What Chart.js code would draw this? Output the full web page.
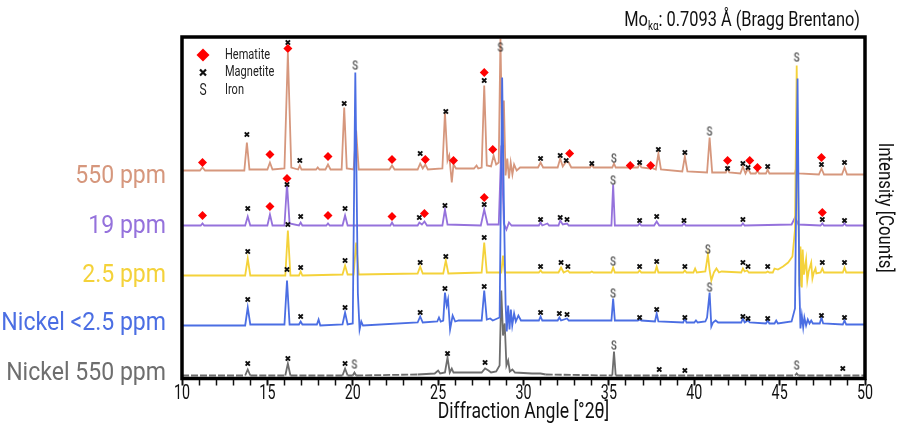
<!DOCTYPE html>
<html>
<head>
<meta charset="utf-8">
<script src="https://cdn.jsdelivr.net/npm/chart.js@4.4.1/dist/chart.umd.min.js"></script>
<style>
  html, body { margin: 0; padding: 0; background: #fff; }
  canvas { display: block; }
</style>
</head>
<body>
<canvas id="xrd" width="898" height="433"></canvas>
<script>
// sample names, drawn as labels left of each pattern
const seriesNames = ['550 ppm', '19 ppm', '2.5 ppm', 'Nickel <2.5 ppm', 'Nickel 550 ppm'];
// vertical offset of each pattern in the stack
const baselines = [208, 153, 104, 55, 3];
// where the sample name sits on the intensity axis
const labelLevels = [203, 153, 104, 56, 6];
// labelled angles on the x axis
const angleTicks = [10, 15, 20, 25, 30, 35, 40, 45, 50];

// [2theta, counts above baseline]
const pattern550 = [
  [10, 0], [11.05, 0], [11.2, 3], [11.35, 0],
  [13.65, 0], [13.8, 28], [13.95, 1],
  [15.0, 1], [15.15, 8], [15.3, 1],
  [16.0, 2], [16.2, 118], [16.4, 3],
  [16.8, 1], [16.9, 5], [17.0, 1],
  [17.85, 1], [17.95, 3], [18.05, 1],
  [18.4, 1], [18.55, 6], [18.7, 1],
  [19.35, 1], [19.5, 63], [19.65, 2],
  [20.05, 1], [20.2, 40], [20.35, 1],
  [22.15, 1], [22.3, 5], [22.45, 1],
  [23.8, 1], [23.95, 7], [24.1, 2], [24.25, 6], [24.4, 1],
  [25.25, 2], [25.4, 58], [25.55, 10], [25.65, 15], [25.8, -12], [25.9, 6], [26.05, 2],
  [27.1, 2], [27.25, 5], [27.35, 2],
  [27.55, 3], [27.7, 85], [27.85, 5],
  [28.1, 4], [28.25, 15], [28.4, 6],
  [28.55, 8], [28.65, 132], [28.75, 30], [28.85, 70], [28.95, -5], [29.05, 12], [29.15, -8],
  [29.25, 8], [29.35, -4], [29.45, 6], [29.6, 0], [29.8, 3],
  [30.85, 3], [31.0, 8], [31.15, 3],
  [32.0, 3], [32.15, 12], [32.3, 4], [32.5, 9], [32.65, 8], [32.8, 3],
  [33.9, 3], [34.0, 6], [34.1, 3],
  [35.2, 3], [35.3, 7], [35.4, 3],
  [36.15, 3], [36.25, 5], [36.35, 3],
  [36.7, 3], [36.8, 7], [36.9, 3],
  [37.4, 2], [37.5, 4], [37.6, 2],
  [37.75, 1], [37.9, 17], [38.05, 1],
  [39.3, -1], [39.45, 14], [39.6, -1],
  [40.75, -2], [40.9, 33], [41.05, -2],
  [41.85, -2], [41.95, 3], [42.05, -2],
  [42.7, -3], [42.85, 4], [43.0, -3], [43.15, 2], [43.3, -3],
  [43.6, -3], [43.7, 0], [43.8, -3],
  [44.2, -3], [44.3, 1], [44.4, -3],
  [45.9, -3], [46.0, 5], [46.1, -3],
  [47.3, -4], [47.45, 2], [47.6, -4],
  [48.65, -4], [48.8, 3], [48.95, -4],
  [50, -4]
];

const pattern19 = [
  [10, 0], [11.1, 0], [11.2, 2], [11.3, 0],
  [13.7, 0], [13.85, 9], [14.0, 0],
  [15.0, 0], [15.15, 11], [15.3, 0],
  [16.0, 0], [16.15, 42], [16.3, 2],
  [16.85, 0], [16.95, 3], [17.05, 0],
  [18.45, 0], [18.55, 2], [18.65, 0],
  [19.4, 0], [19.55, 10], [19.7, 0],
  [22.2, 0], [22.3, 3], [22.4, 0],
  [23.8, 0], [23.9, 3], [24.05, 1], [24.2, 4], [24.35, 0],
  [25.25, 0], [25.4, 16], [25.55, 1],
  [27.5, 0], [27.7, 16], [27.9, 1],
  [28.55, 1], [28.7, 80], [28.85, 2], [29.0, -4], [29.15, 3], [29.3, 0],
  [30.9, 0], [31.0, 3], [31.1, 0], [31.4, 2], [31.5, 0],
  [32.05, 0], [32.15, 5], [32.3, 1], [32.55, 2], [32.65, 0],
  [35.15, 0], [35.25, 41], [35.35, 0],
  [36.7, 0], [36.8, 2], [36.9, 0],
  [37.65, 0], [37.8, 4], [37.95, 0],
  [39.3, 0], [39.4, 2], [39.5, 0],
  [42.75, 0], [42.85, 2], [42.95, 0],
  [45.7, 1], [45.9, 8], [46.1, 1],
  [47.4, 0], [47.5, 2], [47.6, 0],
  [48.7, 0], [48.8, 2], [48.9, 0],
  [50, 0]
];

const pattern2p5 = [
  [10, -1], [13.7, -1], [13.85, 16], [14.0, -1],
  [16.05, -1], [16.2, 44], [16.35, -1],
  [16.85, -1], [16.95, 3], [17.05, -1],
  [19.4, 0], [19.55, 9], [19.7, 0],
  [20.05, 0], [20.2, 32], [20.35, 0],
  [23.8, 1], [23.95, 8], [24.1, 1],
  [25.3, 1], [25.45, 14], [25.6, 1],
  [27.55, 2], [27.7, 32], [27.85, 2],
  [28.7, 2], [28.8, 19], [28.9, 2],
  [30.9, 2], [31.0, 4], [31.1, 2],
  [32.05, 2], [32.2, 7], [32.35, 2], [32.6, 4], [32.7, 2],
  [33.9, 2], [34.0, 3], [34.1, 2],
  [35.15, 2], [35.25, 7], [35.35, 2],
  [36.7, 2], [36.8, 4], [36.9, 2],
  [37.7, 2], [37.8, 8], [37.9, 2],
  [39.35, 2], [39.45, 4], [39.55, 2],
  [39.95, 2], [40.05, 6], [40.15, 2],
  [40.65, 3], [40.8, 20], [40.9, 4], [41.0, -6], [41.15, 2], [41.3, 6], [41.45, 2], [41.6, 3],
  [42.75, 2], [42.85, 6], [42.95, 3], [43.1, 4], [43.2, 2],
  [44.2, 2], [44.3, 3], [44.4, 2],
  [44.6, 2], [44.7, 6], [44.9, 5], [45.2, 8], [45.5, 12], [45.75, 18], [45.9, 45],
  [46.0, 209], [46.1, 60], [46.17, -12], [46.22, 28], [46.3, -13], [46.35, 25], [46.42, 0],
  [46.55, 15], [46.62, -6], [46.7, 3], [46.85, 12], [46.92, -4], [47.0, 2], [47.1, 6], [47.15, 1],
  [47.4, 2], [47.5, 6], [47.6, 2],
  [48.7, 2], [48.8, 7], [48.9, 2],
  [50, 2]
];

const patternNiLow = [
  [10, -2], [13.7, -2], [13.85, 16], [14.0, -1],
  [16.0, -1], [16.15, 43], [16.3, -1],
  [16.85, -1], [16.95, 2], [17.05, -1],
  [17.9, -1], [18.0, 4], [18.1, -2],
  [19.4, -1], [19.55, 11], [19.7, -1],
  [20.0, 0], [20.15, 251], [20.3, 30], [20.4, -6], [20.5, 2], [20.6, -2],
  [23.8, 1], [23.95, 7], [24.1, 1],
  [24.95, 2], [25.05, 6], [25.15, 2],
  [25.3, 3], [25.4, 31], [25.5, 18], [25.58, 24], [25.7, -6], [25.85, 8], [26.0, 2], [26.2, 3],
  [27.55, 3], [27.7, 33], [27.85, 4], [28.05, 5], [28.2, 3],
  [28.6, 6], [28.75, 246], [28.85, 120], [28.95, 20], [29.02, -8], [29.1, 18], [29.18, -6],
  [29.26, 14], [29.34, -2], [29.45, 10], [29.55, 2], [29.7, 8], [29.85, 3],
  [30.9, 3], [31.0, 7], [31.1, 3],
  [32.0, 3], [32.1, 6], [32.2, 3], [32.55, 5], [32.65, 3],
  [35.15, 3], [35.25, 25], [35.35, 3],
  [36.7, 3], [36.8, 4], [36.9, 3],
  [37.7, 2], [37.8, 10], [37.9, 2],
  [39.35, 1], [39.45, 5], [39.55, 1],
  [40.0, 1], [40.1, 3], [40.2, 1],
  [40.65, 2], [40.75, 6], [40.9, 31], [41.0, -3], [41.1, 1], [41.25, 3], [41.4, 1],
  [42.75, 1], [42.85, 5], [42.95, 1], [43.15, 3], [43.25, 1],
  [44.2, 0], [44.3, 3], [44.4, 0],
  [44.7, 0], [44.8, 3], [44.9, 0],
  [45.7, 2], [45.9, 15], [46.05, 245], [46.15, 40], [46.22, -5], [46.3, 8], [46.38, -4],
  [46.45, 6], [46.55, -2], [46.65, 4], [46.75, 0], [46.85, 3], [46.95, 0],
  [47.35, 0], [47.45, 6], [47.55, 0],
  [48.7, -1], [48.8, 3], [48.9, -1],
  [50, -1]
];

const patternNi550 = [
  [10, 0], [13.7, 0], [13.85, 6], [14.0, 0],
  [16.05, 0], [16.2, 12], [16.35, 0],
  [19.4, 0], [19.55, 7], [19.7, 0],
  [20.0, 0], [20.1, 3], [20.2, 0],
  [23.8, 1], [24.8, 2], [25.0, 5], [25.12, 2], [25.4, 3], [25.55, 18], [25.68, 3], [25.8, 7],
  [25.9, 3], [26.3, 3],
  [27.55, 3], [27.75, 7], [27.95, 5], [28.1, 3], [28.4, 4],
  [28.6, 10], [28.7, 85], [28.8, 40], [28.9, 52], [29.0, 10], [29.1, 15], [29.2, 4], [29.35, 6], [29.5, 3],
  [30.5, 2], [31.0, 2], [31.3, 1],
  [35.2, 0], [35.3, 24], [35.4, 0],
  [37.85, 0], [37.95, 1], [38.05, 0],
  [45.9, 0], [46.0, 2], [46.1, 0],
  [50, 0]
];

const patterns = [pattern550, pattern19, pattern2p5, patternNiLow, patternNi550];

// phase markers: [pattern index, 2theta, height above baseline]
const hematiteMarks = [
  [0, 11.2, 8], [0, 15.15, 16], [0, 16.2, 122], [0, 18.55, 14], [0, 22.3, 11], [0, 24.25, 11],
  [0, 25.9, 10], [0, 27.7, 98], [0, 28.2, 21], [0, 32.7, 17], [0, 36.25, 5], [0, 37.45, 5],
  [0, 41.95, 10], [0, 43.25, 10], [0, 43.7, 3], [0, 47.45, 13],
  [1, 11.2, 10], [1, 15.15, 19], [1, 16.15, 47], [1, 18.55, 10], [1, 22.3, 9], [1, 24.2, 12],
  [1, 27.7, 28], [1, 47.5, 13]
];

const magnetiteMarks = [
  [0, 13.8, 36], [0, 16.2, 128], [0, 16.9, 10], [0, 19.5, 67], [0, 23.95, 17], [0, 25.45, 59],
  [0, 27.7, 90], [0, 31.0, 12], [0, 32.15, 15], [0, 32.5, 10], [0, 34.0, 7], [0, 36.8, 8],
  [0, 37.9, 21], [0, 39.45, 18], [0, 41.95, 2], [0, 42.85, 7], [0, 43.15, 3], [0, 44.3, 4],
  [0, 47.45, 6], [0, 48.8, 8],
  [1, 13.85, 17], [1, 16.15, 41], [1, 16.95, 9], [1, 19.55, 17], [1, 23.9, 8], [1, 25.4, 20],
  [1, 27.7, 21], [1, 31.0, 6], [1, 32.15, 8], [1, 32.55, 6], [1, 36.8, 5], [1, 37.8, 9],
  [1, 39.4, 5], [1, 42.85, 6], [1, 47.5, 6], [1, 48.8, 5],
  [2, 13.85, 23], [2, 16.2, 50], [2, 16.95, 7], [2, 19.55, 14], [2, 23.95, 12], [2, 25.45, 18],
  [2, 27.7, 37], [2, 31.0, 8], [2, 32.2, 12], [2, 32.6, 8], [2, 36.8, 8], [2, 37.8, 13],
  [2, 39.45, 8], [2, 42.85, 12], [2, 43.15, 8], [2, 44.3, 8], [2, 47.5, 12], [2, 48.8, 12],
  [3, 13.85, 24], [3, 16.15, 54], [3, 16.95, 7], [3, 19.55, 16], [3, 23.95, 11], [3, 25.4, 35],
  [3, 27.7, 37], [3, 31.0, 11], [3, 32.1, 10], [3, 32.55, 9], [3, 36.8, 6], [3, 37.8, 14],
  [3, 39.45, 6], [3, 42.85, 7], [3, 43.15, 5], [3, 44.3, 5], [3, 47.45, 8], [3, 48.8, 6],
  [4, 13.85, 12], [4, 16.2, 17], [4, 19.55, 12], [4, 25.55, 22], [4, 27.75, 13], [4, 37.95, 6],
  [4, 39.45, 5], [4, 48.7, 7]
];

const ironMarks = [
  [0, 28.65, 123], [0, 35.3, 12], [0, 40.9, 39],
  [1, 35.25, 45],
  [2, 35.25, 13], [2, 40.8, 25], [2, 46.0, 217],
  [3, 20.15, 258], [3, 35.25, 30], [3, 40.9, 36],
  [4, 20.1, 11], [4, 35.3, 30], [4, 46.0, 10]
];

const phaseNames = ['Hematite', 'Magnetite', 'Iron'];

var colors = ['#D6977D', '#9572DC', '#F4D23A', '#4B6EE3', '#6E6E6E'];
var drawOrder = [4, 3, 2, 1, 5];
var FONT = 'Roboto, "Noto Sans", sans-serif';

// Roboto squeezed horizontally, for the condensed lettering
function narrowText(ctx, text, x, y, o) {
  ctx.save();
  ctx.translate(x, y);
  if (o.rotate) ctx.rotate(o.rotate);
  ctx.scale(o.sx, 1);
  ctx.font = o.size + 'px ' + FONT;
  ctx.fillStyle = o.color || '#111';
  ctx.textAlign = o.align || 'left';
  ctx.textBaseline = o.baseline || 'middle';
  ctx.fillText(text, 0, 0);
  ctx.restore();
}

function narrowWidth(ctx, text, size, sx) {
  ctx.save();
  ctx.font = size + 'px ' + FONT;
  var w = ctx.measureText(text).width * sx;
  ctx.restore();
  return w;
}

// "S" glyph used as the point style for iron reflections
function letterS() {
  var c = document.createElement('canvas');
  c.width = 10;
  c.height = 14;
  var g = c.getContext('2d');
  narrowText(g, 'S', 5, 8, { size: 13.5, sx: 0.72, align: 'center', color: '#1a1a1a' });
  return c;
}

function markerData(list) {
  return list.map(function(m) {
    return { x: m[1], y: baselines[m[0]] + m[2] };
  });
}

var datasets = patterns.map(function(p, i) {
  return {
    type: 'line',
    label: seriesNames[i],
    data: p.map(function(pt) { return { x: pt[0], y: baselines[i] + pt[1] }; }),
    borderColor: colors[i],
    borderWidth: 1.8,
    pointRadius: 0,
    tension: 0,
    order: drawOrder[i],
    segment: i === 4 ? {
      // flat stretches of the nickel pattern are drawn broken
      borderDash: function(ctx) {
        var b = baselines[4] + 1;
        return (ctx.p0.parsed.y <= b && ctx.p1.parsed.y <= b) ? [7, 2] : undefined;
      }
    } : undefined
  };
});

datasets.push({
  type: 'scatter', label: phaseNames[0], data: markerData(hematiteMarks),
  pointStyle: 'rectRot', pointRadius: 4.5, backgroundColor: '#FF0000', borderWidth: 0, order: 0
});
datasets.push({
  type: 'scatter', label: phaseNames[1], data: markerData(magnetiteMarks),
  pointStyle: 'crossRot', pointRadius: 3, borderColor: '#111', borderWidth: 2, order: 0
});

var decor = {
  id: 'decor',
  afterDatasetsDraw: function(chart) {
    var a = chart.chartArea, ctx = chart.ctx;
    ctx.save();
    ctx.strokeStyle = '#000';
    ctx.lineWidth = 3.5;
    ctx.strokeRect(a.left, a.top, a.right - a.left, a.bottom - a.top);
    ctx.restore();
  },
  afterDraw: function(chart) {
    var a = chart.chartArea, ctx = chart.ctx, x = chart.scales.x, y = chart.scales.y;

    // sample names
    seriesNames.forEach(function(name, i) {
      narrowText(ctx, name, a.left - 16, y.getPixelForValue(labelLevels[i]) + 1,
        { size: 26.5, sx: 0.87, align: 'right', color: colors[i] });
    });

    // axis numbers and titles
    angleTicks.forEach(function(v) {
      narrowText(ctx, String(v), x.getPixelForValue(v), a.bottom + 15,
        { size: 21, sx: 0.68, align: 'center' });
    });
    narrowText(ctx, 'Diffraction Angle [\u00B02\u03B8]', (a.left + a.right) / 2, a.bottom + 34,
      { size: 22, sx: 0.8, align: 'center' });
    narrowText(ctx, 'Intensity [Counts]', a.right + 19, (a.top + a.bottom) / 2,
      { size: 20, sx: 0.84, align: 'center', rotate: Math.PI / 2 });

    // phase key
    var kx = a.left + 21, ky = a.top + 18, step = 17.5;
    ctx.save();
    ctx.fillStyle = '#FF0000';
    ctx.beginPath();
    ctx.moveTo(kx, ky - 6.5); ctx.lineTo(kx + 6.5, ky); ctx.lineTo(kx, ky + 6.5); ctx.lineTo(kx - 6.5, ky);
    ctx.closePath();
    ctx.fill();
    ctx.strokeStyle = '#111';
    ctx.lineWidth = 2.2;
    ctx.beginPath();
    ctx.moveTo(kx - 3, ky + step - 3); ctx.lineTo(kx + 3, ky + step + 3);
    ctx.moveTo(kx + 3, ky + step - 3); ctx.lineTo(kx - 3, ky + step + 3);
    ctx.stroke();
    ctx.restore();
    narrowText(ctx, 'S', kx, ky + 2 * step + 1, { size: 16, sx: 0.75, align: 'center', color: '#222' });
    phaseNames.forEach(function(n, i) {
      narrowText(ctx, n, kx + 22, ky + i * step, { size: 14.5, sx: 0.76, color: '#222' });
    });

    // radiation note, right aligned over the frame
    var rest = ': 0.7093 \u00C5 (Bragg Brentano)';
    var w1 = narrowWidth(ctx, 'Mo', 20, 0.82);
    var w2 = narrowWidth(ctx, 'k\u03B1', 12, 0.82);
    var w3 = narrowWidth(ctx, rest, 20, 0.82);
    var x0 = a.right - 5 - (w1 + w2 + w3);
    var base = { sx: 0.82, baseline: 'alphabetic' };
    narrowText(ctx, 'Mo', x0, 26, Object.assign({ size: 20 }, base));
    narrowText(ctx, 'k\u03B1', x0 + w1, 30, Object.assign({ size: 12 }, base));
    narrowText(ctx, rest, x0 + w1 + w2, 26, Object.assign({ size: 20 }, base));
  }
};

window.onload = function() {
  // iron markers need the glyph canvas, built once fonts are ready
  datasets.push({
    type: 'scatter', label: phaseNames[2], data: markerData(ironMarks),
    pointStyle: letterS(), pointRadius: 6, order: 0
  });
  var ctx = document.getElementById('xrd').getContext('2d');
  window.xrdChart = new Chart(ctx, {
    type: 'line',
    data: { datasets: datasets },
    plugins: [decor],
    options: {
      responsive: false,
      animation: false,
      devicePixelRatio: 1,
      layout: { padding: { left: 182, top: 37, right: 0, bottom: 0 } },
      plugins: { legend: { display: false }, tooltip: { enabled: false } },
      scales: {
        x: {
          type: 'linear', position: 'bottom', min: 10, max: 50,
          ticks: { stepSize: 1, autoSkip: false, display: false },
          grid: {
            drawOnChartArea: false, drawTicks: true, tickLength: 7, tickColor: '#111',
            tickWidth: function(c) { return c.tick && c.tick.value % 5 === 0 ? 2 : 1.5; }
          },
          border: { display: false },
          afterFit: function(s) { s.height = 433 - 378.5; }
        },
        y: {
          type: 'linear', position: 'right', min: 0, max: 341.5,
          ticks: { display: false },
          grid: { display: false },
          border: { display: false },
          afterFit: function(s) { s.width = 898 - 865; }
        }
      }
    }
  });
};
</script>
</body>
</html>
